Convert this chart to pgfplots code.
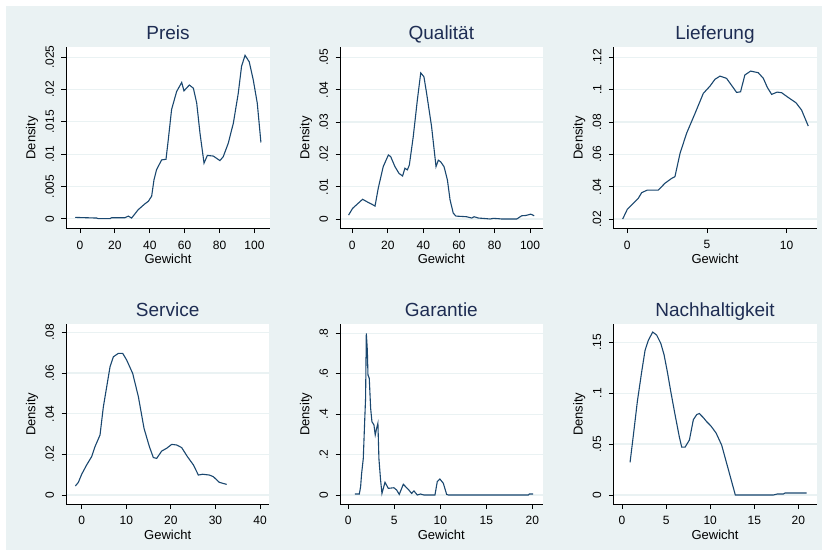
\documentclass[border=0pt]{standalone}
\usepackage{pgfplots}
\pgfplotsset{compat=1.18}
\usepackage{fontspec}
\setmainfont{Liberation Sans}
\definecolor{bgc}{RGB}{234,242,243}
\definecolor{gridc}{RGB}{234,242,243}
\definecolor{linec}{RGB}{26,71,111}
\definecolor{titlec}{RGB}{30,45,83}
\pgfplotsset{
  dens/.style={linec, line width=1.1pt, mark=none},
  statapanel/.style={
    scale only axis, anchor=south west,
    axis x line*=bottom, axis y line*=left,
    axis line style={black, line width=0.8pt, -},
    tick align=outside, major tick length=4.5pt,
    tick style={black, line width=0.8pt},
    scaled y ticks=false, scaled x ticks=false,
    ymajorgrids, grid style={gridc, line width=1.2pt},
    axis background/.style={fill=white},
    title style={font=\fontsize{19}{19}\selectfont, color=titlec, at={(0.5,1)}, anchor=base, yshift=1.7pt},
    xlabel={Gewicht}, ylabel={Density},
    xlabel style={font=\fontsize{13}{13}\selectfont, at={([yshift=-30.5pt]axis description cs:0.5,0)}, anchor=center},
    ylabel style={font=\fontsize{13}{13}\selectfont, at={([xshift=-34pt]axis description cs:0,0.5)}, anchor=center},
    xticklabel style={font=\fontsize{12}{12}\selectfont, yshift=-4pt},
    yticklabel style={font=\fontsize{12}{12}\selectfont, xshift=-4pt, rotate=90, anchor=south},
  }
}
\begin{document}
\begin{tikzpicture}
\fill[white] (0pt,0pt) rectangle (822pt,550pt);
\fill[bgc] (6pt,0pt) rectangle (822pt,544pt);
% Preis
\begin{axis}[statapanel, at={(66pt,321.3pt)}, width=204pt, height=181.7pt,
  title={Preis}, xmin=-8, xmax=108.9, ymin=-0.00155, ymax=0.02659,
  xtick={0,20,40,60,80,100}, xticklabels={0,20,40,60,80,100},
  ytick={0,0.005,0.01,0.015,0.02,0.025}, yticklabels={0,.005,.01,.015,.02,.025}]
\addplot[dens] coordinates {(-2.7,0.0002) (9.6,0.0001) (10.5,0) (17.2,0) (18.1,0.00015) (25.8,0.00015) (27.7,0.0004) (29.6,0.0001) (33.4,0.0014) (37.2,0.0023) (39.2,0.0027) (41.1,0.0035) (42.4,0.006) (43.9,0.0076) (46.8,0.0091) (49.3,0.0092) (50.6,0.0122) (52.5,0.0169) (55.4,0.0197) (58.3,0.0211) (59.6,0.0198) (62.7,0.0207) (65.0,0.0202) (66.9,0.0179) (68.8,0.0132) (71.1,0.0086) (73.0,0.0098) (76.4,0.0097) (80.2,0.0090) (82.1,0.0096) (85.0,0.0117) (87.9,0.0148) (90.7,0.0194) (92.6,0.0236) (94.6,0.0253) (97.0,0.0243) (99.3,0.0215) (101.6,0.0179) (103.7,0.0118)};
\end{axis}
% Qualitaet
\begin{axis}[statapanel, at={(340pt,321.3pt)}, width=202.7pt, height=181.7pt,
  title={Qualität}, xmin=-6.9, xmax=107.1, ymin=-0.0030, ymax=0.0532,
  xtick={0,20,40,60,80,100}, xticklabels={0,20,40,60,80,100},
  ytick={0,0.01,0.02,0.03,0.04,0.05}, yticklabels={0,.01,.02,.03,.04,.05}]
\addplot[dens] coordinates {(-2.1,0.0012) (0.2,0.0033) (2.8,0.0046) (5.8,0.0061) (8.4,0.0053) (10.9,0.0046) (12.8,0.0040) (14.6,0.0095) (17.4,0.0162) (20.3,0.0198) (21.6,0.0193) (24.0,0.0162) (26.3,0.0141) (28.3,0.0133) (29.6,0.0157) (31.0,0.0152) (32.1,0.0167) (34.3,0.0255) (36.6,0.0368) (38.5,0.0452) (40.3,0.0440) (41.8,0.0389) (44.6,0.0286) (47.1,0.0162) (48.4,0.0182) (49.7,0.0177) (51.6,0.0162) (53.5,0.0121) (55.0,0.0059) (56.8,0.0018) (58.3,0.0009) (64.3,0.0007) (67.2,0.0003) (68.5,0.0007) (70.9,0.0003) (75.6,0.0001) (77.5,0) (79.3,0.0002) (82.2,0.0001) (84.0,0) (92.5,0) (95.3,0.0010) (97.7,0.0011) (100.4,0.0015) (102.3,0.0010)};
\end{axis}
% Lieferung
\begin{axis}[statapanel, at={(613.3pt,321.3pt)}, width=203.4pt, height=181.7pt,
  title={Lieferung}, xmin=-0.88, xmax=11.89, ymin=0.0140, ymax=0.1264,
  xtick={0,5,10}, xticklabels={0,5,10},
  ytick={0.02,0.04,0.06,0.08,0.1,0.12}, yticklabels={.02,.04,.06,.08,.1,.12}]
\addplot[dens] coordinates {(-0.29,0.020) (0,0.026) (0.38,0.0297) (0.69,0.0328) (0.90,0.0363) (1.26,0.0379) (1.95,0.0379) (2.36,0.0421) (2.78,0.0451) (2.99,0.0462) (3.31,0.0606) (3.72,0.0730) (4.25,0.0853) (4.77,0.0977) (5.19,0.1022) (5.50,0.1064) (5.82,0.1084) (6.23,0.1070) (6.61,0.1018) (6.86,0.0983) (7.11,0.0987) (7.38,0.1091) (7.74,0.1115) (8.22,0.1105) (8.54,0.1070) (8.79,0.1014) (9.06,0.0971) (9.41,0.0985) (9.69,0.0981) (10.10,0.0952) (10.59,0.0919) (10.94,0.0874) (11.36,0.0775)};
\end{axis}
% Service
\begin{axis}[statapanel, at={(66pt,45.7pt)}, width=203.3pt, height=180pt,
  title={Service}, xmin=-3.52, xmax=42.08, ymin=-0.0046, ymax=0.0840,
  xtick={0,10,20,30,40}, xticklabels={0,10,20,30,40},
  ytick={0,0.02,0.04,0.06,0.08}, yticklabels={0,.02,.04,.06,.08}]
\addplot[dens] coordinates {(-1.42,0.0044) (-0.75,0.0062) (0,0.0102) (1.12,0.0148) (2.24,0.0189) (2.99,0.0238) (4.11,0.0295) (4.86,0.0434) (5.61,0.0533) (6.36,0.0631) (7.10,0.0680) (8.22,0.0697) (9.20,0.0697) (10.09,0.0664) (11.44,0.0598) (12.71,0.0484) (13.98,0.0328) (15.18,0.0238) (16.07,0.0184) (16.82,0.0180) (17.94,0.0216) (19.07,0.0230) (20.19,0.0249) (21.31,0.0246) (22.43,0.0233) (23.70,0.0189) (25.05,0.0148) (26.17,0.0098) (27.14,0.0102) (28.64,0.0098) (29.53,0.0090) (30.88,0.0062) (32.52,0.0052)};
\end{axis}
% Garantie
\begin{axis}[statapanel, at={(340pt,45.7pt)}, width=202.7pt, height=180pt,
  title={Garantie}, xmin=-0.90, xmax=21.13, ymin=-0.046, ymax=0.845,
  xtick={0,5,10,15,20}, xticklabels={0,5,10,15,20},
  ytick={0,0.2,0.4,0.6,0.8}, yticklabels={0,.2,.4,.6,.8}]
\addplot[dens] coordinates {(0.72,0.005) (1.20,0.005) (1.34,0.041) (1.45,0.107) (1.63,0.18) (1.78,0.363) (1.88,0.479) (1.96,0.80) (2.07,0.718) (2.14,0.594) (2.28,0.578) (2.43,0.429) (2.57,0.363) (2.79,0.347) (2.93,0.297) (3.08,0.33) (3.22,0.355) (3.33,0.18) (3.51,0.074) (3.66,0.008) (3.99,0.063) (4.35,0.033) (4.96,0.036) (5.25,0.025) (5.54,0.003) (5.98,0.053) (6.52,0.028) (6.88,0.008) (7.14,0.020) (7.50,0) (7.86,0.005) (8.22,0) (9.42,0) (9.67,0.066) (9.96,0.079) (10.33,0.058) (10.69,0.003) (10.87,0) (19.57,0) (19.67,0.005) (20.1,0.005)};
\end{axis}
% Nachhaltigkeit
\begin{axis}[statapanel, at={(613.3pt,45.7pt)}, width=203.4pt, height=180pt,
  title={Nachhaltigkeit}, xmin=-0.99, xmax=22.08, ymin=-0.0091, ymax=0.1676,
  xtick={0,5,10,15,20}, xticklabels={0,5,10,15,20},
  ytick={0,0.05,0.1,0.15}, yticklabels={0,.05,.1,.15}]
\addplot[dens] coordinates {(0.91,0.032) (1.29,0.059) (1.74,0.092) (2.23,0.121) (2.61,0.142) (2.99,0.152) (3.48,0.160) (3.93,0.157) (4.39,0.149) (4.76,0.138) (5.14,0.121) (5.52,0.102) (6.01,0.079) (6.50,0.057) (6.77,0.047) (7.15,0.047) (7.64,0.054) (8.09,0.074) (8.47,0.079) (8.77,0.080) (9.22,0.076) (9.60,0.072) (10.06,0.068) (10.66,0.061) (11.30,0.049) (11.87,0.031) (12.44,0.013) (12.85,0) (17.16,0) (17.62,0.001) (18.30,0.001) (18.49,0.002) (20.95,0.002)};
\end{axis}
\end{tikzpicture}
\end{document}
